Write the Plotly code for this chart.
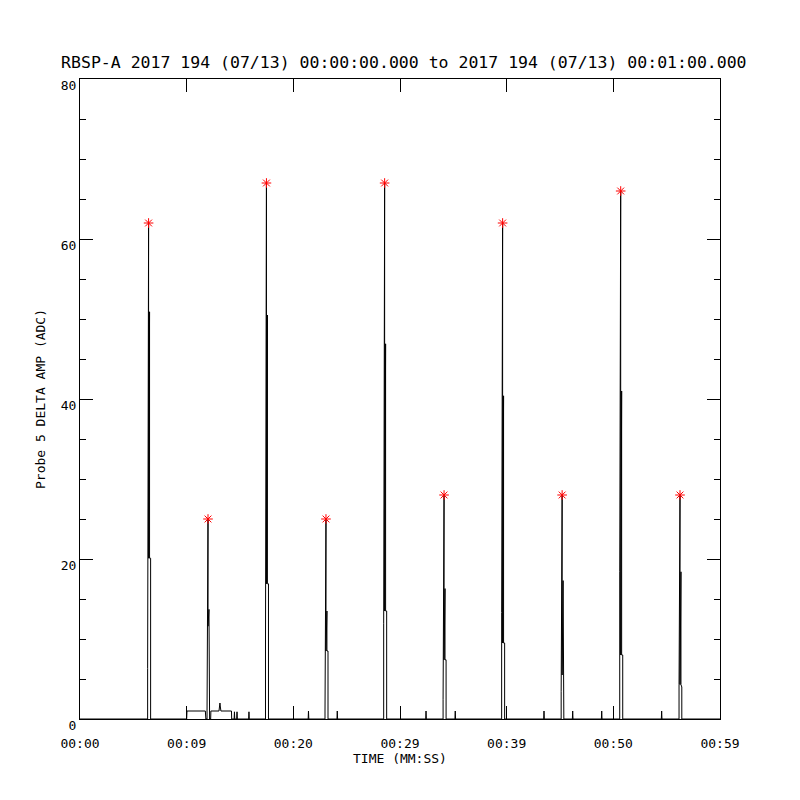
import plotly.graph_objects as go

# Time in seconds from 00:00:00, amplitude in ADC units
time_s = [
    0.0, 6.34, 6.34, 6.43, 6.43, 6.52, 6.52, 6.62, 6.62,
    10.0, 10.03, 11.75, 11.8,
    11.91, 11.91, 12.0, 12.0, 12.09, 12.09, 12.15, 12.15,
    12.25, 12.27, 13.03, 13.08, 13.12, 13.16, 13.21, 14.2, 14.22,
    14.45, 14.48, 14.51, 14.69, 14.72, 14.75, 15.81, 15.84, 15.87,
    17.39, 17.39, 17.48, 17.48, 17.57, 17.57, 17.67, 17.67,
    21.39, 21.42, 21.45,
    22.97, 22.97, 23.06, 23.06, 23.15, 23.15, 23.25, 23.25,
    24.09, 24.12, 24.15,
    28.47, 28.47, 28.56, 28.56, 28.65, 28.65, 28.75, 28.75,
    32.41, 32.44, 32.47,
    34.04, 34.04, 34.13, 34.13, 34.22, 34.22, 34.32, 34.32,
    35.15, 35.18, 35.21,
    39.53, 39.53, 39.62, 39.62, 39.71, 39.71, 39.81, 39.81,
    43.47, 43.5, 43.53,
    45.11, 45.11, 45.2, 45.2, 45.29, 45.29, 45.36, 45.36,
    46.16, 46.19, 46.22,
    48.88, 48.91, 48.94,
    50.6, 50.6, 50.69, 50.69, 50.78, 50.78, 50.88, 50.88,
    54.5, 54.53, 54.56,
    56.16, 56.16, 56.25, 56.25, 56.34, 56.34, 56.42, 56.42,
    60.0,
]
amp_adc = [
    0, 0, 6.3, 62, 20.1, 50.9, 20.1, 20.1, 0,
    0, 1.0, 1.0, 0,
    0, 1.0, 25, 11.6, 13.7, 11.6, 11.6, 0,
    0, 1.0, 1.0, 1.5, 2.0, 1.5, 1.0, 1.0, 0,
    0, 0.9, 0, 0, 0.9, 0, 0, 0.9, 0,
    0, 9.0, 67, 16.9, 50.5, 16.9, 16.9, 0,
    0, 1.0, 0,
    0, 1.0, 25, 8.5, 13.5, 8.5, 8.5, 0,
    0, 1.0, 0,
    0, 11.9, 67, 13.5, 46.9, 13.5, 13.5, 0,
    0, 1.0, 0,
    0, 2.4, 28, 7.4, 16.3, 7.4, 7.4, 0,
    0, 1.0, 0,
    0, 13.3, 62, 9.5, 40.4, 9.5, 9.5, 0,
    0, 1.0, 0,
    0, 3.4, 28, 5.5, 17.3, 5.5, 5.5, 0,
    0, 1.0, 0,
    0, 1.0, 0,
    0, 18.4, 66, 8.0, 41.0, 8.0, 8.0, 0,
    0, 1.0, 0,
    0, 4.3, 28, 4.3, 18.4, 4.3, 4.0, 0,
    0,
]

peak_times = [6.43, 12.0, 17.48, 23.06, 28.56, 34.13, 39.62, 45.2, 50.69, 56.25]
peak_values = [62, 25, 67, 25, 67, 28, 62, 28, 66, 28]

x_tickvals = [0, 10, 20, 30, 40, 50, 60]
x_ticktext = ["00:00", "00:09", "00:20", "00:29", "00:39", "00:50", "00:59"]
y_tickvals = [0, 20, 40, 60, 80]

FONT = "DejaVu Sans Mono"

fig = go.Figure()
fig.add_trace(go.Scatter(
    x=time_s, y=amp_adc, mode="lines",
    line=dict(color="black", width=1),
    showlegend=False, hoverinfo="skip",
))
fig.add_trace(go.Scatter(
    x=peak_times, y=peak_values, mode="markers",
    marker=dict(symbol="asterisk-open", size=8, color="red",
                line=dict(color="red", width=1)),
    showlegend=False,
))

# page is offset 8px by the default body margin; margins compensate
fig.update_layout(
    width=800, height=800,
    margin=dict(l=72, r=88, t=71, b=89, autoexpand=False),
    paper_bgcolor="white", plot_bgcolor="white",
    font=dict(family=FONT, size=13, color="black"),
    title=dict(
        text="RBSP-A 2017 194 (07/13) 00:00:00.000 to 2017 194 (07/13) 00:01:00.000",
        x=0.4948, xanchor="center", y=0.9325, yanchor="middle",
        font=dict(family=FONT, size=16.5, color="black"),
    ),
    xaxis=dict(
        range=[0, 60], tickvals=x_tickvals, ticktext=x_ticktext,
        ticks="inside", ticklen=13, tickwidth=1, tickcolor="black",
        showline=True, linecolor="black", linewidth=1, mirror="ticks",
        showgrid=False, zeroline=False, ticklabelstandoff=12,
        tickfont=dict(family=FONT, size=13),
    ),
    yaxis=dict(
        range=[0, 80], tickvals=y_tickvals,
        ticks="inside", ticklen=13, tickwidth=1, tickcolor="black",
        minor=dict(dtick=5, ticks="inside", ticklen=6, tickcolor="black", tickwidth=1, showgrid=False),
        showline=True, linecolor="black", linewidth=1, mirror="ticks",
        showgrid=False, zeroline=False, ticklabelshift=6,
        tickfont=dict(family=FONT, size=13),
    ),
    annotations=[
        dict(text="TIME (MM:SS)", xref="paper", yref="paper", x=0.5, y=0,
             xanchor="center", yanchor="middle", yshift=-39, showarrow=False,
             font=dict(family=FONT, size=13)),
        dict(text="Probe 5 DELTA AMP (ADC)", xref="paper", yref="paper", x=0, y=0.5,
             xanchor="center", yanchor="middle", xshift=-40, textangle=-90,
             showarrow=False, font=dict(family=FONT, size=13)),
    ],
)

fig.write_html("out.html")
